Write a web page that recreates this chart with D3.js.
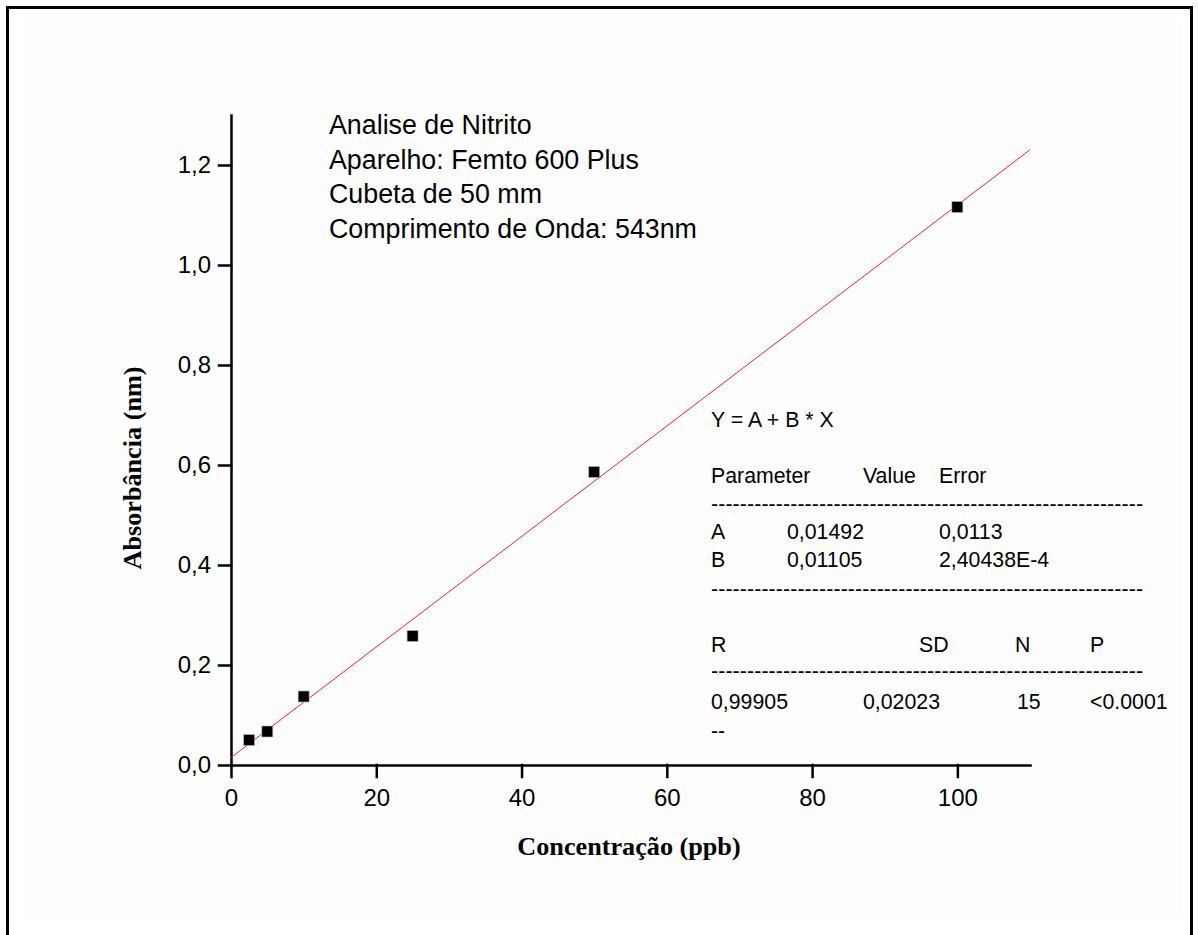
<!DOCTYPE html>
<meta charset="utf-8">
<style>
  body { margin: 0; background: #fff; }
  .tick text { font-family: "Liberation Sans", Arial, sans-serif; font-size: 24px; fill: #000; }
  .title { font-family: "Liberation Serif", "Times New Roman", serif; font-weight: bold; font-size: 26.2px; }
  .note { font-family: "Liberation Sans", Arial, sans-serif; font-size: 26.8px; }
  .fit { font-family: "Liberation Sans", Arial, sans-serif; font-size: 21.3px; }
</style>
<body>
<script src="https://d3js.org/d3.v7.min.js"></script>
<script>

// calibration points (concentration ppb, absorbance)
var conc = [2.5, 5, 10, 25, 50, 100];
var absorb = [0.050, 0.067, 0.137, 0.258, 0.586, 1.116];

// linear fit Y = A + B * X
var fitA = 0.01492,
    fitB = 0.01105;

var notes = ["Analise de Nitrito", "Aparelho: Femto 600 Plus", "Cubeta de 50 mm", "Comprimento de Onda: 543nm"];

var fitHeader = ["Parameter", "Value", "Error"];
var fitRows = [["A", "0,01492", "0,0113"], ["B", "0,01105", "2,40438E-4"]];
var statHeader = ["R", "SD", "N", "P"];
var statValues = ["0,99905", "0,02023", "15", "<0.0001"];

var xMajor = [0, 20, 40, 60, 80, 100],
    xMinor = [10, 30, 50, 70, 90, 110];
var yMajor = [0, 0.2, 0.4, 0.6, 0.8, 1.0, 1.2],
    yMinor = [0.1, 0.3, 0.5, 0.7, 0.9, 1.1, 1.3];

var width = 1198,
    height = 935;

var svg = d3.select("body").append("svg")
    .attr("width", width)
    .attr("height", height);

// frame
svg.append("rect")
    .attr("x", 22).attr("y", 22)
    .attr("width", 1160).attr("height", 893)
    .attr("fill", "#fdfdfd");
svg.append("rect")
    .attr("x", 7.5).attr("y", 7.5)
    .attr("width", 1184).attr("height", 960)
    .attr("fill", "none")
    .attr("stroke", "#000")
    .attr("stroke-width", 3);

var x = d3.scaleLinear().domain([0, 110]).range([231, 1030]);
var y = d3.scaleLinear().domain([0, 1.3]).range([765, 115]);

var fmt = function(d) { return d3.format(".1f")(d).replace(".", ","); };

// axes
var gx = svg.append("g").attr("class", "axis").attr("transform", "translate(0,765)");
gx.call(d3.axisBottom(x).tickValues(xMinor).tickSize(7).tickSizeOuter(0).tickFormat(""));
gx.call(d3.axisBottom(x).tickValues(xMajor).tickSize(12).tickSizeOuter(0).tickPadding(12));

var gy = svg.append("g").attr("class", "axis").attr("transform", "translate(231,0)");
gy.call(d3.axisLeft(y).tickValues(yMinor).tickSize(7).tickSizeOuter(0).tickFormat(""));
gy.call(d3.axisLeft(y).tickValues(yMajor).tickSize(12).tickSizeOuter(0).tickPadding(8).tickFormat(fmt));

svg.selectAll(".axis path, .axis line")
    .attr("stroke", "#000")
    .attr("stroke-width", 2.5)
    .attr("stroke-linecap", "square");

// axis titles
svg.append("text")
    .attr("class", "title")
    .attr("x", 629).attr("y", 855)
    .attr("text-anchor", "middle")
    .text("Concentração (ppb)");

svg.append("text")
    .attr("class", "title")
    .attr("transform", "translate(141,468)rotate(-90)")
    .attr("text-anchor", "middle")
    .text("Absorbância (nm)");

// fit line
svg.append("line")
    .attr("x1", x(0)).attr("y1", y(fitA))
    .attr("x2", x(110)).attr("y2", y(fitA + fitB * 110))
    .attr("stroke", "#ff2020")
    .attr("stroke-width", 1);

// points
svg.selectAll(".pt")
    .data(conc)
  .enter().append("rect")
    .attr("class", "pt")
    .attr("x", function(d) { return x(d) - 5.5; })
    .attr("y", function(d, i) { return y(absorb[i]) - 5.5; })
    .attr("width", 11)
    .attr("height", 11)
    .attr("fill", "#000")
    .attr("stroke", "#bbb")
    .attr("stroke-width", 0.6);

// annotation
svg.selectAll(".note")
    .data(notes)
  .enter().append("text")
    .attr("class", "note")
    .attr("x", 329)
    .attr("y", function(d, i) { return 134 + i * 34.5; })
    .text(function(d) { return d; });

// fit table
var table = svg.append("g").attr("class", "fit");
var dashes = d3.range(60).map(function() { return "-"; }).join("");

table.append("text").attr("x", 711).attr("y", 427).text("Y = A + B * X");

var col3 = [711, 863, 939];
table.selectAll(".hdr")
    .data(fitHeader)
  .enter().append("text")
    .attr("x", function(d, i) { return col3[i]; })
    .attr("y", 483)
    .text(function(d) { return d; });

var colRow = [711, 787, 939];
fitRows.forEach(function(row, r) {
  table.selectAll(".row" + r)
      .data(row)
    .enter().append("text")
      .attr("x", function(d, i) { return colRow[i]; })
      .attr("y", 539 + r * 28)
      .text(function(d) { return d; });
});

var col4h = [711, 919, 1015, 1090],
    col4v = [711, 863, 1017, 1090];
table.selectAll(".shdr")
    .data(statHeader)
  .enter().append("text")
    .attr("x", function(d, i) { return col4h[i]; })
    .attr("y", 652)
    .text(function(d) { return d; });
table.selectAll(".sval")
    .data(statValues)
  .enter().append("text")
    .attr("x", function(d, i) { return col4v[i]; })
    .attr("y", 709)
    .text(function(d) { return d; });

[511, 596, 678].forEach(function(yy) {
  table.append("text")
      .attr("x", 711).attr("y", yy)
      .attr("textLength", 432)
      .attr("lengthAdjust", "spacing")
      .text(dashes);
});
table.append("text").attr("x", 711).attr("y", 738).text("--");

</script>
</body>
